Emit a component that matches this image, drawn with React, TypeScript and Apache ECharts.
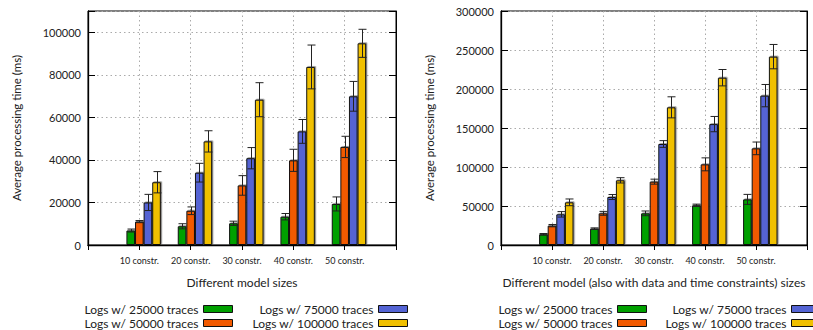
import React, { useEffect, useRef } from "react";
import * as echarts from "echarts";

const CATEGORIES = ["10 constr.", "20 constr.", "30 constr.", "40 constr.", "50 constr."];
const SERIES_NAMES = [
  "Logs w/ 25000 traces",
  "Logs w/ 50000 traces",
  "Logs w/ 75000 traces",
  "Logs w/ 100000 traces",
];
const COLORS = ["#00a000", "#f25a00", "#5464d4", "#f0c000"];

// Left chart: different model sizes
const L_25000 = [6800, 8800, 10200, 13300, 19300];
const L_25000_ERR = [700, 1200, 1000, 1500, 3300];
const L_50000 = [11000, 16100, 28000, 39800, 46100];
const L_50000_ERR = [500, 1800, 4600, 5200, 5000];
const L_75000 = [20000, 34000, 40800, 53400, 69900];
const L_75000_ERR = [3800, 4400, 5000, 5600, 7000];
const L_100000 = [29500, 48700, 68300, 83700, 94800];
const L_100000_ERR = [5000, 5000, 8000, 10300, 6600];

// Right chart: with data and time constraints
const R_25000 = [13700, 20900, 40600, 50900, 58500];
const R_25000_ERR = [1000, 1000, 3000, 1500, 6400];
const R_50000 = [24800, 40600, 81200, 103400, 123900];
const R_50000_ERR = [1500, 2500, 3200, 8300, 8100];
const R_75000 = [39300, 61500, 129500, 155000, 191500];
const R_75000_ERR = [3500, 3200, 4300, 9800, 14300];
const R_100000 = [54700, 82900, 176500, 214500, 241500];
const R_100000_ERR = [4300, 3400, 13500, 10500, 15600];

const LEFT_MAX = 110000;
const LEFT_INTERVAL = 20000;
const RIGHT_MAX = 300000;
const RIGHT_INTERVAL = 50000;

const X_TITLE_LEFT = "Different model sizes";
const X_TITLE_RIGHT = "Different model (also with data and time constraints) sizes";
const Y_TITLE = "Average processing time (ms)";

const FONT = "Lato, 'Noto Sans', sans-serif";
const BAR_W = 8.6;

export default function App() {
  const ref = useRef<HTMLDivElement>(null);

  useEffect(() => {
    if (!ref.current) return;
    const chart = echarts.init(ref.current, undefined, { renderer: "svg" });

    const axisCats = ["", ...CATEGORIES, ""];
    const leftVals = [L_25000, L_50000, L_75000, L_100000];
    const leftErrs = [L_25000_ERR, L_50000_ERR, L_75000_ERR, L_100000_ERR];
    const rightVals = [R_25000, R_50000, R_75000, R_100000];
    const rightErrs = [R_25000_ERR, R_50000_ERR, R_75000_ERR, R_100000_ERR];

    const grids = [
      { left: 88, top: 11, width: 308, height: 234 },
      { left: 501, top: 11, width: 306, height: 234 },
    ];

    const xAxes: any[] = [];
    const yAxes: any[] = [];
    const series: any[] = [];

    [0, 1].forEach((g) => {
      xAxes.push({
        type: "category",
        gridIndex: g,
        data: axisCats,
        boundaryGap: false,
        position: "bottom",
        name: g === 0 ? X_TITLE_LEFT : X_TITLE_RIGHT,
        nameLocation: "middle",
        nameGap: 31,
        nameTextStyle: { fontFamily: FONT, fontSize: 12, color: "#222", verticalAlign: "top" },
        axisLine: { show: true, lineStyle: { color: "#000", width: 1.3 } },
        axisTick: { show: false },
        axisLabel: { interval: 0, fontFamily: FONT, fontSize: 9, color: "#222", margin: 11 },
        splitLine: { show: true, lineStyle: { color: "#aaa", type: [1.5, 3], width: 1 } },
      });
      xAxes.push({
        type: "category",
        gridIndex: g,
        data: axisCats,
        boundaryGap: false,
        position: "top",
        axisLine: { show: true, lineStyle: { color: "#000", width: 1 } },
        axisTick: { show: true, inside: true, length: 5, interval: 0, lineStyle: { color: "#000" } },
        axisLabel: { show: false },
        splitLine: { show: false },
      });
      const max = g === 0 ? LEFT_MAX : RIGHT_MAX;
      const interval = g === 0 ? LEFT_INTERVAL : RIGHT_INTERVAL;
      yAxes.push({
        type: "value",
        gridIndex: g,
        min: 0,
        max,
        interval,
        position: "left",
        name: Y_TITLE,
        nameLocation: "middle",
        nameGap: 66,
        nameRotate: 90,
        nameTextStyle: { fontFamily: FONT, fontSize: 11.5, color: "#222" },
        axisLine: { show: true, lineStyle: { color: "#000", width: 1.3 } },
        axisTick: { show: true, inside: true, length: 7, lineStyle: { color: "#000" } },
        axisLabel: {
          fontFamily: FONT,
          fontSize: 11,
          color: "#222",
          margin: 7,
          formatter: (v: number) => (v % interval === 0 ? String(v) : ""),
        },
        splitLine: { show: true, lineStyle: { color: "#aaa", type: [1.5, 3], width: 1 } },
      });
      yAxes.push({
        type: "value",
        gridIndex: g,
        min: 0,
        max,
        interval,
        position: "right",
        axisLine: { show: true, lineStyle: { color: "#000", width: 1 } },
        axisTick: { show: true, inside: true, length: 7, lineStyle: { color: "#000" } },
        axisLabel: { show: false },
        splitLine: { show: false },
      });

      const vals = g === 0 ? leftVals : rightVals;
      const errs = g === 0 ? leftErrs : rightErrs;
      const xi = g * 2;
      const yi = g * 2;

      // empty leading slot, so the cluster sits like the original (orange bar on the tick)
      series.push({
        type: "bar",
        name: "_slot" + g,
        xAxisIndex: xi,
        yAxisIndex: yi,
        barWidth: BAR_W,
        barGap: "0%",
        data: axisCats.map(() => null),
      });
      vals.forEach((arr, j) => {
        series.push({
          type: "bar",
          name: SERIES_NAMES[j],
          xAxisIndex: xi,
          yAxisIndex: yi,
          barWidth: BAR_W,
          barGap: "0%",
          data: [null, ...arr, null],
          itemStyle: {
            color: COLORS[j],
            borderColor: "#111",
            borderWidth: 1,
            shadowColor: "rgba(0,0,0,0.45)",
            shadowOffsetX: 1.2,
            shadowOffsetY: -0.8,
            shadowBlur: 1,
          },
          z: 2,
        });
      });

      const errData: number[][] = [];
      vals.forEach((arr, j) => {
        arr.forEach((v, i) => {
          errData.push([i + 1, j, v, errs[j][i]]);
        });
      });
      series.push({
        type: "custom",
        name: "_err" + g,
        xAxisIndex: xi,
        yAxisIndex: yi,
        z: 5,
        encode: { x: 0, y: 2 },
        data: errData,
        renderItem: (params: any, api: any) => {
          const cat = api.value(0);
          const j = api.value(1);
          const v = api.value(2);
          const e = api.value(3);
          const hi = api.coord([cat, v + e]);
          const lo = api.coord([cat, v - e]);
          const x = Math.round(hi[0] + (j - 1) * BAR_W) + 0.5;
          const cap = 4;
          const st = { stroke: "#222", lineWidth: 1 };
          return {
            type: "group",
            children: [
              { type: "line", shape: { x1: x, y1: hi[1], x2: x, y2: lo[1] }, style: st },
              { type: "line", shape: { x1: x - cap, y1: hi[1], x2: x + cap, y2: hi[1] }, style: st },
              { type: "line", shape: { x1: x - cap, y1: lo[1], x2: x + cap, y2: lo[1] }, style: st },
            ],
          };
        },
      });
    });

    const legendRights = [
      [580, 405],
      [166, -8],
    ];
    const legends: any[] = [];
    [0, 1].forEach((g) => {
      SERIES_NAMES.forEach((name, j) => {
        legends.push({
          data: [name],
          right: legendRights[g][j >= 2 ? 1 : 0],
          top: j % 2 === 0 ? 302 : 316,
          orient: "horizontal",
          align: "right",
          padding: 0,
          itemWidth: 29,
          itemHeight: 7,
          selectedMode: false,
          icon: "rect",
          textStyle: { fontFamily: FONT, fontSize: 12, color: "#222", lineHeight: 14 },
          itemStyle: { borderColor: "#111", borderWidth: 1 },
        });
      });
    });

    chart.setOption({
      animation: false,
      backgroundColor: "#fff",
      grid: grids.map((gr) => ({ ...gr, show: true, borderColor: "#000", borderWidth: 1, containLabel: false })),
      xAxis: xAxes,
      yAxis: yAxes,
      legend: legends,
      series,
    });

    return () => {
      chart.dispose();
    };
  }, []);

  return (
    <div
      ref={ref}
      style={{ position: "absolute", left: 0, top: 0, width: 813, height: 330 }}
    />
  );
}
